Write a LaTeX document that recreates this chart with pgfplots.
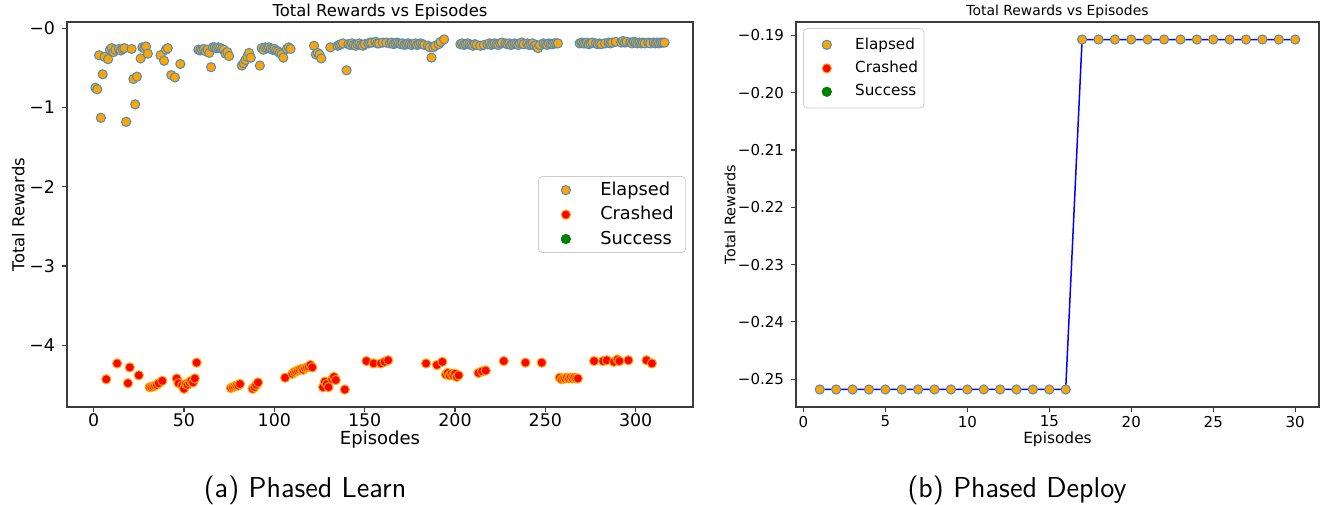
\documentclass[border=0pt]{standalone}
\usepackage{fontspec}
\setmainfont{DejaVu Sans}
\usepackage{pgfplots}
\pgfplotsset{compat=1.18}
\definecolor{efill}{RGB}{255,165,0}
\definecolor{eedge}{RGB}{80,140,190}
\definecolor{cfill}{RGB}{255,0,0}
\definecolor{cedge}{RGB}{255,165,0}
\definecolor{sfill}{RGB}{0,128,0}
\definecolor{frame}{RGB}{60,60,60}
\definecolor{legframe}{RGB}{204,204,204}
\pgfplotsset{
  mystyle/.style={
    scale only axis,
    axis line style={frame, line width=0.6pt},
    tick style={frame, line width=0.6pt},
    tick align=outside,
    major tick length=2.5pt,
    tick pos=left,
    scaled ticks=false,
    legend cell align=left,
    /pgf/number format/assume math mode=true,
  },
  legmark/.style n args={2}{legend image code/.code={\path (0pt,0pt) (#1,0pt); \draw[##1] plot coordinates {(#2,0pt)};}},
}
\begin{document}
\begin{tikzpicture}
\path[use as bounding box] (0pt,0pt) rectangle (662pt,252pt);
% ---------------- left ----------------
\begin{axis}[mystyle,
  at={(33.5pt,48.5pt)}, anchor=south west,
  width=313pt, height=192.5pt,
  xmin=-14.75, xmax=331.75, ymin=-4.78, ymax=0.08,
  xtick={0,50,100,150,200,250,300},
  ytick={-4,-3,-2,-1,0},
  yticklabels={−4,−3,−2,−1,−0},
  tick label style={font=\fontsize{8.7}{10}\selectfont},
  xticklabel style={yshift=2.5pt},
  xlabel={Episodes}, ylabel={Total Rewards},
  xlabel style={font=\fontsize{9}{11}\selectfont, at={(axis description cs:0.5,0)}, anchor=base, yshift=-18.7pt},
  ylabel style={font=\fontsize{8.2}{10}\selectfont, at={(axis description cs:-0.078,0.5)}, anchor=center},
  title={Total Rewards vs Episodes},
  every axis title/.style={font=\fontsize{8.2}{10}\selectfont, at={(axis description cs:0.5,1)}, anchor=base, yshift=2.5pt},
  legend style={font=\fontsize{8.9}{10}\selectfont, draw=legframe, rounded corners=2pt,
    at={(axis description cs:0.989,0.5)}, anchor=east, inner xsep=6pt, inner ysep=1.2pt,
    row sep=1pt, nodes={inner xsep=0pt, inner ysep=1.5pt},
    /tikz/every odd column/.append style={column sep=8.5pt}},
]
\addplot[only marks, legmark={16pt}{7.5pt}, mark=*, mark size=2.3pt, mark options={fill=efill, draw=eedge, line width=0.5pt}] table {
1 -0.75
2 -0.77
3 -0.34
4 -1.13
5 -0.58
6 -0.36
8 -0.39
9 -0.27
10 -0.25
11 -0.30
12 -0.27
14 -0.26
15 -0.28
16 -0.26
17 -0.25
18 -1.18
21 -0.26
22 -0.64
23 -0.96
24 -0.61
26 -0.38
27 -0.24
28 -0.25
29 -0.23
30 -0.32
37 -0.34
39 -0.41
40 -0.27
41 -0.25
43 -0.59
45 -0.62
48 -0.45
58 -0.27
59 -0.28
60 -0.27
61 -0.26
62 -0.29
63 -0.27
64 -0.31
65 -0.49
66 -0.24
67 -0.24
68 -0.25
69 -0.24
70 -0.25
71 -0.26
72 -0.27
73 -0.32
74 -0.30
75 -0.35
82 -0.47
83 -0.44
84 -0.40
85 -0.36
86 -0.31
87 -0.37
92 -0.47
93 -0.25
94 -0.27
95 -0.24
96 -0.25
97 -0.24
98 -0.26
99 -0.27
100 -0.26
101 -0.28
102 -0.29
103 -0.31
104 -0.33
105 -0.37
107 -0.26
108 -0.24
109 -0.26
122 -0.22
123 -0.33
124 -0.31
125 -0.33
126 -0.38
131 -0.24
135 -0.22
136 -0.21
137 -0.20
138 -0.19
140 -0.53
141 -0.20
142 -0.21
143 -0.19
144 -0.21
145 -0.22
146 -0.20
147 -0.19
148 -0.21
149 -0.22
150 -0.20
152 -0.19
153 -0.18
154 -0.18
156 -0.17
157 -0.19
158 -0.19
160 -0.18
162 -0.18
164 -0.19
165 -0.18
166 -0.20
167 -0.19
168 -0.18
169 -0.19
170 -0.20
171 -0.19
172 -0.21
173 -0.20
174 -0.19
175 -0.20
176 -0.21
177 -0.20
178 -0.19
179 -0.21
180 -0.20
181 -0.19
182 -0.20
183 -0.21
185 -0.22
186 -0.24
187 -0.37
188 -0.24
189 -0.22
191 -0.20
192 -0.17
194 -0.14
203 -0.20
204 -0.19
205 -0.21
206 -0.20
207 -0.19
208 -0.20
209 -0.21
210 -0.22
211 -0.20
212 -0.21
214 -0.22
216 -0.21
218 -0.20
219 -0.19
220 -0.21
221 -0.20
222 -0.19
223 -0.20
224 -0.21
225 -0.19
226 -0.18
228 -0.19
229 -0.20
230 -0.19
231 -0.21
232 -0.20
233 -0.19
234 -0.20
235 -0.21
236 -0.19
237 -0.18
238 -0.20
240 -0.19
241 -0.21
242 -0.20
243 -0.19
244 -0.22
245 -0.21
246 -0.25
247 -0.21
249 -0.19
250 -0.20
251 -0.21
252 -0.19
253 -0.20
254 -0.20
255 -0.19
256 -0.19
257 -0.19
269 -0.19
270 -0.18
271 -0.19
272 -0.19
273 -0.18
274 -0.20
275 -0.19
276 -0.18
278 -0.19
279 -0.20
280 -0.19
281 -0.20
283 -0.19
285 -0.18
286 -0.19
287 -0.18
289 -0.17
292 -0.18
293 -0.16
294 -0.18
295 -0.17
297 -0.18
298 -0.19
299 -0.17
300 -0.18
301 -0.19
302 -0.18
303 -0.19
304 -0.18
305 -0.19
307 -0.18
308 -0.19
310 -0.18
311 -0.19
312 -0.18
313 -0.19
314 -0.18
315 -0.18
316 -0.18
};
\addlegendentry{Elapsed}
\addplot[only marks, legmark={16pt}{7.5pt}, mark=*, mark size=2.3pt, mark options={fill=cfill, draw=cedge, line width=0.5pt}] table {
7 -4.43
13 -4.23
19 -4.48
20 -4.28
25 -4.38
31 -4.53
32 -4.53
33 -4.52
34 -4.51
35 -4.50
36 -4.48
38 -4.45
46 -4.42
47 -4.48
49 -4.51
50 -4.55
51 -4.49
52 -4.50
53 -4.47
54 -4.45
55 -4.47
56 -4.42
57 -4.22
76 -4.54
77 -4.53
78 -4.52
79 -4.51
80 -4.51
81 -4.49
88 -4.55
89 -4.53
90 -4.50
91 -4.47
106 -4.41
110 -4.36
111 -4.34
112 -4.33
113 -4.32
114 -4.31
115 -4.30
116 -4.31
117 -4.29
118 -4.28
119 -4.27
120 -4.25
121 -4.28
127 -4.53
128 -4.46
129 -4.49
130 -4.53
132 -4.43
133 -4.40
134 -4.44
139 -4.56
151 -4.20
155 -4.23
159 -4.23
161 -4.21
163 -4.19
184 -4.23
190 -4.25
193 -4.21
195 -4.37
196 -4.35
197 -4.38
198 -4.36
199 -4.38
200 -4.36
201 -4.40
202 -4.38
213 -4.35
215 -4.33
217 -4.32
227 -4.20
239 -4.22
248 -4.22
258 -4.41
259 -4.43
260 -4.42
261 -4.42
262 -4.41
263 -4.42
264 -4.41
265 -4.42
266 -4.41
267 -4.42
268 -4.42
277 -4.20
282 -4.20
284 -4.19
288 -4.21
290 -4.18
291 -4.20
296 -4.19
306 -4.19
309 -4.23
};
\addlegendentry{Crashed}
\addlegendimage{only marks, legmark={16pt}{7.5pt}, mark=*, mark size=2.3pt, mark options={fill=sfill, draw=sfill, line width=0.5pt}}
\addlegendentry{Success}
\end{axis}
% ---------------- right ----------------
\begin{axis}[mystyle,
  at={(398pt,48.5pt)}, anchor=south west,
  width=261.5pt, height=192.5pt,
  xmin=-0.45, xmax=31.45, ymin=-0.25486, ymax=-0.18764,
  xtick={0,5,10,15,20,25,30},
  ytick={-0.25,-0.24,-0.23,-0.22,-0.21,-0.20,-0.19},
  yticklabels={−0.25,−0.24,−0.23,−0.22,−0.21,−0.20,−0.19},
  tick label style={font=\fontsize{7.5}{9}\selectfont},
  xticklabel style={yshift=1.5pt},
  xlabel={Episodes}, ylabel={Total Rewards},
  xlabel style={font=\fontsize{7.7}{9}\selectfont, at={(axis description cs:0.5,0)}, anchor=base, yshift=-18.2pt},
  ylabel style={font=\fontsize{7.2}{9}\selectfont, at={(axis description cs:-0.126,0.5)}, anchor=center},
  title={Total Rewards vs Episodes},
  every axis title/.style={font=\fontsize{6.95}{8}\selectfont, at={(axis description cs:0.5,1)}, anchor=base, yshift=3pt},
  legend style={font=\fontsize{7.6}{9}\selectfont, draw=legframe, rounded corners=2pt,
    at={(axis description cs:0.0134,0.984)}, anchor=north west, inner xsep=3pt, inner ysep=3pt,
    row sep=1.5pt, nodes={inner xsep=0pt, inner ysep=1.5pt},
    /tikz/every odd column/.append style={column sep=5.5pt}},
]
\addplot[only marks, legmark={17pt}{8.5pt}, mark=*, mark size=2.3pt, mark options={fill=efill, draw=eedge, line width=0.5pt}] table {
1 -0.2518
2 -0.2518
3 -0.2518
4 -0.2518
5 -0.2518
6 -0.2518
7 -0.2518
8 -0.2518
9 -0.2518
10 -0.2518
11 -0.2518
12 -0.2518
13 -0.2518
14 -0.2518
15 -0.2518
16 -0.2518
17 -0.1907
18 -0.1907
19 -0.1907
20 -0.1907
21 -0.1907
22 -0.1907
23 -0.1907
24 -0.1907
25 -0.1907
26 -0.1907
27 -0.1907
28 -0.1907
29 -0.1907
30 -0.1907
};
\addlegendentry{Elapsed}
\addlegendimage{only marks, legmark={17pt}{8.5pt}, mark=*, mark size=2.3pt, mark options={fill=cfill, draw=cedge, line width=0.5pt}}
\addlegendentry{Crashed}
\addlegendimage{only marks, legmark={17pt}{8.5pt}, mark=*, mark size=2.3pt, mark options={fill=sfill, draw=sfill, line width=0.5pt}}
\addlegendentry{Success}
\addplot[blue, line width=0.75pt, forget plot] table {
1 -0.2518
16 -0.2518
17 -0.1907
30 -0.1907
};
\end{axis}
\node[font=\sffamily\fontsize{14.4}{17}\selectfont, anchor=base] at (152.5pt,3.5pt) {(a) Phased Learn};
\node[font=\sffamily\fontsize{14.4}{17}\selectfont, anchor=base] at (508.5pt,3.5pt) {(b) Phased Deploy};
\end{tikzpicture}
\end{document}
